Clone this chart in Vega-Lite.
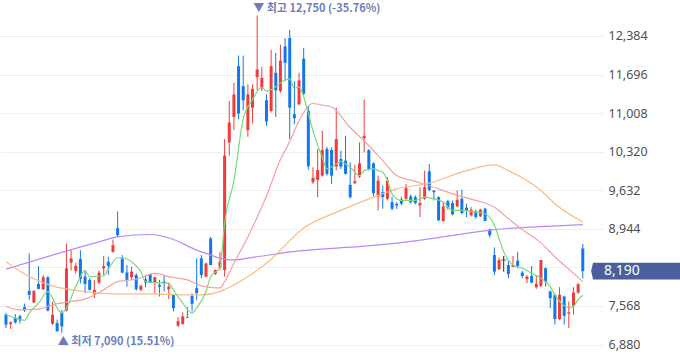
{
  "$schema": "https://vega.github.io/schema/vega-lite/v6.json",
  "width": 603,
  "height": 358,
  "autosize": {"type": "none"},
  "padding": {"left": 0, "top": 0, "right": 77, "bottom": 0},
  "background": "white",
  "config": {"view": {"stroke": null}, "font": "Noto Sans CJK KR"},
  "datasets": {
    "k": [
      {"i":0,"o":7412,"h":7442,"l":7176,"c":7235},
      {"i":1,"o":7247,"h":7294,"l":7158,"c":7276},
      {"i":2,"o":7353,"h":7424,"l":7252,"c":7276},
      {"i":3,"o":7383,"h":7412,"l":7252,"c":7311},
      {"i":4,"o":7547,"h":7610,"l":7460,"c":7488},
      {"i":5,"o":7837,"h":8505,"l":7677,"c":7766},
      {"i":6,"o":7630,"h":7850,"l":7620,"c":7837},
      {"i":7,"o":7961,"h":8280,"l":7866,"c":7872},
      {"i":8,"o":7866,"h":8120,"l":7855,"c":8079},
      {"i":9,"o":8079,"h":8100,"l":7470,"c":7488},
      {"i":10,"o":7252,"h":7648,"l":7234,"c":7411},
      {"i":11,"o":7264,"h":7323,"l":7110,"c":7116},
      {"i":12,"o":7441,"h":7500,"l":7090,"c":7205},
      {"i":13,"o":7488,"h":8682,"l":7470,"c":8239},
      {"i":14,"o":8339,"h":8564,"l":8197,"c":8416},
      {"i":15,"o":8197,"h":8339,"l":8150,"c":8280},
      {"i":16,"o":8404,"h":8564,"l":7973,"c":8050},
      {"i":17,"o":8091,"h":8209,"l":7795,"c":7961},
      {"i":18,"o":8032,"h":8060,"l":7840,"c":7855},
      {"i":19,"o":7784,"h":8032,"l":7707,"c":7855},
      {"i":20,"o":7985,"h":8200,"l":7960,"c":8162},
      {"i":21,"o":8239,"h":8457,"l":8121,"c":8280},
      {"i":22,"o":8357,"h":8446,"l":8121,"c":8280},
      {"i":23,"o":8534,"h":8753,"l":8517,"c":8653},
      {"i":24,"o":8955,"h":9256,"l":8800,"c":8830},
      {"i":25,"o":8417,"h":8476,"l":8151,"c":8163},
      {"i":26,"o":8163,"h":8299,"l":7914,"c":8021},
      {"i":27,"o":8080,"h":8269,"l":8033,"c":8180},
      {"i":28,"o":8121,"h":8151,"l":7843,"c":7867},
      {"i":29,"o":7855,"h":7950,"l":7830,"c":7926},
      {"i":30,"o":8045,"h":8121,"l":7903,"c":7985},
      {"i":31,"o":8139,"h":8139,"l":7973,"c":7985},
      {"i":32,"o":7985,"h":8090,"l":7784,"c":8080},
      {"i":33,"o":7944,"h":8033,"l":7737,"c":7914},
      {"i":34,"o":8003,"h":8121,"l":7826,"c":7973},
      {"i":35,"o":7867,"h":7973,"l":7690,"c":7914},
      {"i":36,"o":7778,"h":7778,"l":7471,"c":7530},
      {"i":37,"o":7217,"h":7371,"l":7193,"c":7294},
      {"i":38,"o":7247,"h":7453,"l":7235,"c":7382},
      {"i":39,"o":7365,"h":7548,"l":7353,"c":7353},
      {"i":40,"o":7749,"h":7796,"l":7471,"c":7607},
      {"i":41,"o":7885,"h":8417,"l":7678,"c":7796},
      {"i":42,"o":8417,"h":8476,"l":8062,"c":8121},
      {"i":43,"o":8091,"h":8340,"l":8080,"c":8327},
      {"i":44,"o":8771,"h":8800,"l":8298,"c":8298},
      {"i":45,"o":8138,"h":8220,"l":8120,"c":8209},
      {"i":46,"o":8256,"h":8534,"l":8209,"c":8357},
      {"i":47,"o":8210,"h":10545,"l":8092,"c":10249},
      {"i":48,"o":10486,"h":11224,"l":10249,"c":10840},
      {"i":49,"o":10941,"h":11550,"l":10704,"c":11342},
      {"i":50,"o":11845,"h":12034,"l":10900,"c":11000},
      {"i":51,"o":11490,"h":12034,"l":11059,"c":11236},
      {"i":52,"o":10704,"h":11520,"l":10586,"c":11342},
      {"i":53,"o":11106,"h":11520,"l":10822,"c":11443},
      {"i":54,"o":11650,"h":12750,"l":11413,"c":11786},
      {"i":55,"o":11449,"h":11827,"l":11402,"c":11638},
      {"i":56,"o":11236,"h":11342,"l":10781,"c":10858},
      {"i":57,"o":11047,"h":12140,"l":11017,"c":11845},
      {"i":58,"o":11727,"h":12081,"l":10941,"c":11413},
      {"i":59,"o":11402,"h":12229,"l":11372,"c":11945},
      {"i":60,"o":12200,"h":12347,"l":11579,"c":11904},
      {"i":61,"o":12347,"h":12495,"l":10545,"c":11106},
      {"i":62,"o":10988,"h":11579,"l":10811,"c":10917},
      {"i":63,"o":11165,"h":11727,"l":11147,"c":11591},
      {"i":64,"o":11980,"h":12170,"l":11330,"c":11354},
      {"i":65,"o":11047,"h":11136,"l":10000,"c":10060},
      {"i":66,"o":9776,"h":10042,"l":9746,"c":9853},
      {"i":67,"o":9817,"h":10367,"l":9510,"c":9994},
      {"i":68,"o":9894,"h":10692,"l":9876,"c":10349},
      {"i":69,"o":10367,"h":10408,"l":9894,"c":9924},
      {"i":70,"o":10349,"h":10396,"l":9746,"c":9894},
      {"i":71,"o":10054,"h":11106,"l":9983,"c":10544},
      {"i":72,"o":10190,"h":10337,"l":10012,"c":10054},
      {"i":73,"o":10160,"h":10603,"l":9912,"c":9924},
      {"i":74,"o":9728,"h":10130,"l":9480,"c":9510},
      {"i":75,"o":9758,"h":10089,"l":9746,"c":9793},
      {"i":76,"o":9876,"h":10485,"l":9853,"c":10113},
      {"i":77,"o":10562,"h":11253,"l":10308,"c":10603},
      {"i":78,"o":10349,"h":10367,"l":9983,"c":10012},
      {"i":79,"o":10113,"h":10130,"l":9522,"c":9581},
      {"i":80,"o":9522,"h":9894,"l":9273,"c":9805},
      {"i":81,"o":9598,"h":9716,"l":9303,"c":9510},
      {"i":82,"o":9480,"h":9865,"l":9451,"c":9805},
      {"i":83,"o":9421,"h":9521,"l":9273,"c":9303},
      {"i":84,"o":9391,"h":9420,"l":9300,"c":9362},
      {"i":85,"o":9470,"h":9521,"l":9362,"c":9395},
      {"i":86,"o":9480,"h":9746,"l":9462,"c":9675},
      {"i":87,"o":9521,"h":9557,"l":9391,"c":9421},
      {"i":88,"o":9510,"h":9539,"l":9380,"c":9403},
      {"i":89,"o":9362,"h":9687,"l":9155,"c":9404},
      {"i":90,"o":9480,"h":9983,"l":9462,"c":9687},
      {"i":91,"o":9971,"h":10101,"l":9616,"c":9640},
      {"i":92,"o":9628,"h":9628,"l":9450,"c":9598},
      {"i":93,"o":9510,"h":9522,"l":9084,"c":9096},
      {"i":94,"o":9084,"h":9421,"l":9072,"c":9344},
      {"i":95,"o":9439,"h":9462,"l":9285,"c":9321},
      {"i":96,"o":9403,"h":9451,"l":9185,"c":9202},
      {"i":97,"o":9344,"h":9628,"l":9332,"c":9462},
      {"i":98,"o":9480,"h":9640,"l":9202,"c":9226},
      {"i":99,"o":9320,"h":9391,"l":9155,"c":9273},
      {"i":100,"o":9185,"h":9332,"l":9167,"c":9285},
      {"i":101,"o":9261,"h":9285,"l":9125,"c":9155},
      {"i":102,"o":9167,"h":9303,"l":9155,"c":9285},
      {"i":103,"o":9303,"h":9320,"l":9084,"c":9084},
      {"i":104,"o":8931,"h":8948,"l":8789,"c":8830},
      {"i":105,"o":8476,"h":8612,"l":8121,"c":8180},
      {"i":106,"o":8222,"h":8435,"l":8210,"c":8388},
      {"i":107,"o":8388,"h":8458,"l":8180,"c":8388},
      {"i":108,"o":8299,"h":8387,"l":8062,"c":8139},
      {"i":109,"o":8269,"h":8458,"l":8257,"c":8299},
      {"i":110,"o":8376,"h":8535,"l":8240,"c":8281},
      {"i":111,"o":8163,"h":8198,"l":8062,"c":8104},
      {"i":112,"o":8045,"h":8121,"l":7974,"c":8092},
      {"i":113,"o":8104,"h":8281,"l":7974,"c":7985},
      {"i":114,"o":7903,"h":8104,"l":7873,"c":7962},
      {"i":115,"o":7926,"h":8388,"l":7903,"c":8388},
      {"i":116,"o":8240,"h":8257,"l":7914,"c":8003},
      {"i":117,"o":7826,"h":7844,"l":7530,"c":7708},
      {"i":118,"o":7767,"h":7785,"l":7235,"c":7335},
      {"i":119,"o":7335,"h":7903,"l":7312,"c":7767},
      {"i":120,"o":7737,"h":7749,"l":7235,"c":7394},
      {"i":121,"o":7430,"h":7649,"l":7176,"c":7454},
      {"i":122,"o":7572,"h":7903,"l":7413,"c":7808},
      {"i":123,"o":7808,"h":7974,"l":7785,"c":7956},
      {"i":124,"o":8594,"h":8671,"l":8062,"c":8190}
    ],
    "ma": [
      {"m":"ma120","i":0,"v":8225},{"m":"ma120","i":10,"v":8476},{"m":"ma120","i":20,"v":8712},{"m":"ma120","i":24,"v":8800},{"m":"ma120","i":31,"v":8843},{"m":"ma120","i":36,"v":8754},{"m":"ma120","i":41,"v":8564},{"m":"ma120","i":43,"v":8506},{"m":"ma120","i":47,"v":8400},{"m":"ma120","i":49,"v":8390},{"m":"ma120","i":53,"v":8435},{"m":"ma120","i":63,"v":8550},{"m":"ma120","i":77,"v":8635},{"m":"ma120","i":84,"v":8690},{"m":"ma120","i":91,"v":8765},{"m":"ma120","i":98,"v":8850},{"m":"ma120","i":105,"v":8931},{"m":"ma120","i":115,"v":8985},{"m":"ma120","i":124,"v":9020},
      {"m":"ma60","i":0,"v":8357},{"m":"ma60","i":5,"v":8091},{"m":"ma60","i":10,"v":7926},{"m":"ma60","i":17,"v":7825},{"m":"ma60","i":24,"v":7784},{"m":"ma60","i":31,"v":7784},{"m":"ma60","i":39,"v":7766},{"m":"ma60","i":42,"v":7766},{"m":"ma60","i":46,"v":7825},{"m":"ma60","i":49,"v":7944},{"m":"ma60","i":56,"v":8329},{"m":"ma60","i":64,"v":8960},{"m":"ma60","i":72,"v":9273},{"m":"ma60","i":79,"v":9509},{"m":"ma60","i":84,"v":9658},{"m":"ma60","i":91,"v":9758},{"m":"ma60","i":99,"v":9983},{"m":"ma60","i":105,"v":10084},{"m":"ma60","i":108,"v":9983},{"m":"ma60","i":112,"v":9805},{"m":"ma60","i":115,"v":9628},{"m":"ma60","i":118,"v":9392},{"m":"ma60","i":124,"v":9066},
      {"m":"ma20","i":0,"v":7559},{"m":"ma20","i":3,"v":7500},{"m":"ma20","i":7,"v":7513},{"m":"ma20","i":10,"v":7589},{"m":"ma20","i":14,"v":7648},{"m":"ma20","i":17,"v":7690},{"m":"ma20","i":21,"v":7855},{"m":"ma20","i":24,"v":8002},{"m":"ma20","i":28,"v":8045},{"m":"ma20","i":32,"v":8151},{"m":"ma20","i":35,"v":8091},{"m":"ma20","i":39,"v":8033},{"m":"ma20","i":42,"v":7926},{"m":"ma20","i":44,"v":7900},{"m":"ma20","i":46,"v":7890},{"m":"ma20","i":47,"v":8000},{"m":"ma20","i":49,"v":8330},{"m":"ma20","i":52,"v":8800},{"m":"ma20","i":56,"v":9530},{"m":"ma20","i":59,"v":10180},{"m":"ma20","i":61,"v":10500},{"m":"ma20","i":63,"v":10870},{"m":"ma20","i":66,"v":11180},{"m":"ma20","i":68,"v":11150},{"m":"ma20","i":70,"v":11117},{"m":"ma20","i":74,"v":10751},{"m":"ma20","i":77,"v":10515},{"m":"ma20","i":81,"v":10160},{"m":"ma20","i":84,"v":9894},{"m":"ma20","i":88,"v":9790},{"m":"ma20","i":93,"v":9658},{"m":"ma20","i":97,"v":9540},{"m":"ma20","i":101,"v":9451},{"m":"ma20","i":105,"v":9330},{"m":"ma20","i":108,"v":9126},{"m":"ma20","i":111,"v":8930},{"m":"ma20","i":115,"v":8694},{"m":"ma20","i":118,"v":8446},{"m":"ma20","i":122,"v":8151},{"m":"ma20","i":124,"v":8002},
      {"m":"ma5","i":0,"v":7412},{"m":"ma5","i":2,"v":7353},{"m":"ma5","i":4,"v":7311},{"m":"ma5","i":5,"v":7442},{"m":"ma5","i":7,"v":7619},{"m":"ma5","i":9,"v":7825},{"m":"ma5","i":10,"v":7708},{"m":"ma5","i":11,"v":7531},{"m":"ma5","i":12,"v":7442},{"m":"ma5","i":13,"v":7531},{"m":"ma5","i":15,"v":7914},{"m":"ma5","i":17,"v":8197},{"m":"ma5","i":18,"v":8091},{"m":"ma5","i":21,"v":8103},{"m":"ma5","i":22,"v":8222},{"m":"ma5","i":24,"v":8428},{"m":"ma5","i":25,"v":8428},{"m":"ma5","i":27,"v":8357},{"m":"ma5","i":29,"v":8180},{"m":"ma5","i":30,"v":8002},{"m":"ma5","i":32,"v":7985},{"m":"ma5","i":35,"v":7974},{"m":"ma5","i":36,"v":7855},{"m":"ma5","i":38,"v":7619},{"m":"ma5","i":40,"v":7442},{"m":"ma5","i":41,"v":7531},{"m":"ma5","i":43,"v":7825},{"m":"ma5","i":44,"v":8091},{"m":"ma5","i":46,"v":8250},{"m":"ma5","i":47,"v":9050},{"m":"ma5","i":49,"v":9800},{"m":"ma5","i":51,"v":10900},{"m":"ma5","i":53,"v":11250},{"m":"ma5","i":55,"v":11470},{"m":"ma5","i":56,"v":11401},{"m":"ma5","i":58,"v":11480},{"m":"ma5","i":60,"v":11600},{"m":"ma5","i":61,"v":11620},{"m":"ma5","i":62,"v":11449},{"m":"ma5","i":63,"v":11472},{"m":"ma5","i":64,"v":11300},{"m":"ma5","i":65,"v":11000},{"m":"ma5","i":66,"v":10692},{"m":"ma5","i":68,"v":10218},{"m":"ma5","i":69,"v":10013},{"m":"ma5","i":71,"v":10101},{"m":"ma5","i":72,"v":10148},{"m":"ma5","i":73,"v":10100},{"m":"ma5","i":74,"v":10042},{"m":"ma5","i":76,"v":9894},{"m":"ma5","i":77,"v":9983},{"m":"ma5","i":79,"v":10013},{"m":"ma5","i":80,"v":9983},{"m":"ma5","i":81,"v":9953},{"m":"ma5","i":82,"v":9805},{"m":"ma5","i":83,"v":9569},{"m":"ma5","i":85,"v":9451},{"m":"ma5","i":88,"v":9451},{"m":"ma5","i":90,"v":9510},{"m":"ma5","i":92,"v":9480},{"m":"ma5","i":94,"v":9421},{"m":"ma5","i":96,"v":9273},{"m":"ma5","i":98,"v":9273},{"m":"ma5","i":101,"v":9243},{"m":"ma5","i":103,"v":9214},{"m":"ma5","i":105,"v":9008},{"m":"ma5","i":106,"v":8772},{"m":"ma5","i":107,"v":8535},{"m":"ma5","i":109,"v":8298},{"m":"ma5","i":111,"v":8240},{"m":"ma5","i":113,"v":8151},{"m":"ma5","i":115,"v":8062},{"m":"ma5","i":117,"v":7914},{"m":"ma5","i":118,"v":7766},{"m":"ma5","i":120,"v":7571},{"m":"ma5","i":121,"v":7540},{"m":"ma5","i":122,"v":7560},{"m":"ma5","i":123,"v":7680},{"m":"ma5","i":124,"v":7760}
    ]
  },
  "layer": [
    {
      "data": {"name": "k"},
      "mark": {"type": "rule", "strokeWidth": 1},
      "encoding": {
        "x": {"field": "i", "type": "quantitative", "scale": {"domain": [-0.21, 127.27], "nice": false, "zero": false}, "axis": null},
        "y": {"field": "l", "type": "quantitative", "scale": {"domain": [6640, 13026], "nice": false, "zero": false},
              "axis": {"orient": "right", "values": [6880, 7568, 8256, 8944, 9632, 10320, 11008, 11696, 12384], "labelExpr": "datum.value == 8256 ? '' : format(datum.value, ',d')", "title": null, "domain": false, "ticks": false, "labelPadding": 5, "labelFontSize": 12.5, "labelColor": "#505050", "labelFont": "Noto Sans", "gridColor": "#eef0f4", "gridWidth": 1}},
        "y2": {"field": "h"},
        "color": {"condition": [{"test": "datum.c > datum.o", "value": "#ef3b3b"}, {"test": "datum.c < datum.o", "value": "#1277ea"}], "value": "#222222"}
      }
    },
    {
      "data": {"name": "k"},
      "mark": {"type": "bar", "size": 3},
      "encoding": {
        "x": {"field": "i", "type": "quantitative", "scale": {"domain": [-0.21, 127.27], "nice": false, "zero": false}},
        "y": {"field": "o", "type": "quantitative", "scale": {"domain": [6640, 13026], "nice": false, "zero": false}},
        "y2": {"field": "c"},
        "color": {"condition": [{"test": "datum.c > datum.o", "value": "#ef3b3b"}, {"test": "datum.c < datum.o", "value": "#1277ea"}], "value": "#222222"}
      }
    },
    {
      "data": {"name": "k"},
      "transform": [{"filter": "datum.o == datum.c"}],
      "mark": {"type": "tick", "orient": "horizontal", "size": 5, "thickness": 1, "color": "#222222"},
      "encoding": {
        "x": {"field": "i", "type": "quantitative", "scale": {"domain": [-0.21, 127.27], "nice": false, "zero": false}},
        "y": {"field": "o", "type": "quantitative", "scale": {"domain": [6640, 13026], "nice": false, "zero": false}}
      }
    },
    {
      "data": {"name": "ma"},
      "mark": {"type": "line", "strokeWidth": 1.2, "interpolate": "monotone"},
      "encoding": {
        "x": {"field": "i", "type": "quantitative", "scale": {"domain": [-0.21, 127.27], "nice": false, "zero": false}},
        "y": {"field": "v", "type": "quantitative", "scale": {"domain": [6640, 13026], "nice": false, "zero": false}},
        "color": {"field": "m", "type": "nominal", "scale": {"domain": ["ma120", "ma60", "ma20", "ma5"], "range": ["#b98af7", "#fbbc84", "#f7a0a0", "#7bd87b"]}, "legend": null},
        "order": {"field": "i", "type": "quantitative"}
      }
    },
    {
      "data": {"values": [{"i": 54, "v": 12750, "t": "▼ 최고 12,750 (-35.76%)"}]},
      "mark": {"type": "text", "align": "left", "baseline": "bottom", "dx": -4, "dy": -1, "fontSize": 11, "fontWeight": "bold", "color": "#6b7eb8"},
      "encoding": {
        "x": {"field": "i", "type": "quantitative", "scale": {"domain": [-0.21, 127.27], "nice": false, "zero": false}},
        "y": {"field": "v", "type": "quantitative", "scale": {"domain": [6640, 13026], "nice": false, "zero": false}},
        "text": {"field": "t"}
      }
    },
    {
      "data": {"values": [{"i": 12, "v": 7090, "t": "▲ 최저 7,090 (15.51%)"}]},
      "mark": {"type": "text", "align": "left", "baseline": "top", "dx": -4, "dy": 3, "fontSize": 11, "fontWeight": "bold", "color": "#6b7eb8"},
      "encoding": {
        "x": {"field": "i", "type": "quantitative", "scale": {"domain": [-0.21, 127.27], "nice": false, "zero": false}},
        "y": {"field": "v", "type": "quantitative", "scale": {"domain": [6640, 13026], "nice": false, "zero": false}},
        "text": {"field": "t"}
      }
    },
    {
      "data": {"values": [{"p": 8190, "t": "8,190"}]},
      "mark": {"type": "point", "shape": "M -1 0 L -0.75 -1.05 L 12 -1.05 L 12 1.05 L -0.75 1.05 Z", "size": 256, "filled": true, "opacity": 1, "color": "#4a5f9c", "strokeWidth": 0},
      "encoding": {
        "x": {"datum": 127.5, "type": "quantitative", "scale": {"domain": [-0.21, 127.27], "nice": false, "zero": false}},
        "y": {"field": "p", "type": "quantitative", "scale": {"domain": [6640, 13026], "nice": false, "zero": false}}
      }
    },
    {
      "data": {"values": [{"p": 8190, "t": "8,190"}]},
      "mark": {"type": "text", "align": "left", "baseline": "middle", "dx": 5, "fontSize": 14, "font": "Noto Sans", "color": "white"},
      "encoding": {
        "x": {"datum": 127.5, "type": "quantitative", "scale": {"domain": [-0.21, 127.27], "nice": false, "zero": false}},
        "y": {"field": "p", "type": "quantitative", "scale": {"domain": [6640, 13026], "nice": false, "zero": false}},
        "text": {"field": "t"}
      }
    }
  ]
}
